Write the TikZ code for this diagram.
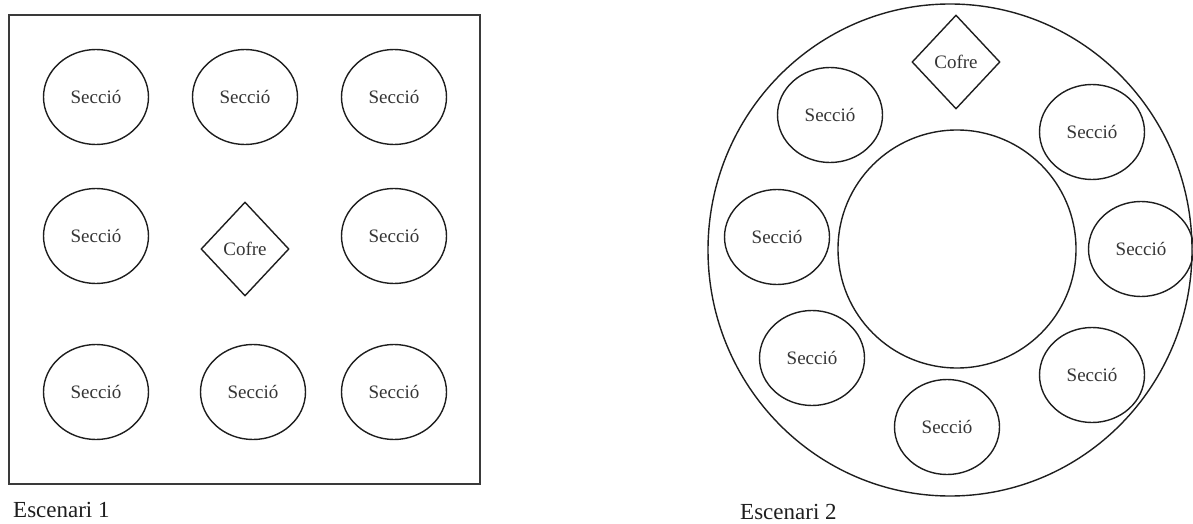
\documentclass[tikz,border=0pt]{standalone}
\usepackage{fontspec}
\setmainfont{Liberation Serif}
\usetikzlibrary{shapes.geometric}
\definecolor{ink}{HTML}{1E1E1E}
\definecolor{frame}{HTML}{3A3A3A}
\begin{document}
\begin{tikzpicture}[x=1pt,y=-1pt,
  section/.style={ellipse, draw=ink, line width=1.4pt, minimum width=105pt, minimum height=95pt,
    inner sep=0pt, font=\fontsize{19}{19}\selectfont, text=ink!90},
  chest/.style={diamond, draw=ink, line width=1.4pt, minimum width=88pt, minimum height=94pt,
    inner sep=0pt, font=\fontsize{19}{19}\selectfont, text=ink!90},
  ring/.style={draw=ink, line width=1.4pt},
  caption/.style={anchor=base west, inner sep=0pt, font=\fontsize{23}{23}\selectfont, text=ink}]
\useasboundingbox (0,0) rectangle (1193,524);

% Scenario 1: a square room with a 3x3 grid
\draw[frame, line width=2pt] (9,15) rectangle (480,484);
\node[section] (s1a) at (96,97)  {Secció};
\node[section] (s1b) at (245,97) {Secció};
\node[section] (s1c) at (394,97) {Secció};
\node[section] (s1d) at (96,236)  {Secció};
\node[chest]   (c1)  at (245,249) {Cofre};
\node[section] (s1e) at (394,236) {Secció};
\node[section] (s1f) at (96,392)  {Secció};
\node[section] (s1g) at (253,392) {Secció};
\node[section] (s1h) at (394,392) {Secció};
\node[caption] (e1) at (13,517) {Escenari 1};

% Scenario 2: a circular room around a central pit
\draw[ring] (950,250) ellipse [x radius=242pt, y radius=246pt];
\draw[ring] (957,249) circle [radius=119pt];
\node[chest]   (c2)  at (956,62)  {Cofre};
\node[section] (s2a) at (830,115) {Secció};
\node[section] (s2b) at (1092,132) {Secció};
\node[section] (s2c) at (1141,249) {Secció};
\node[section] (s2d) at (1092,375) {Secció};
\node[section] (s2e) at (947,427) {Secció};
\node[section] (s2f) at (812,358) {Secció};
\node[section] (s2g) at (777,237) {Secció};
\node[caption] (e2) at (740,519) {Escenari 2};
\end{tikzpicture}
\end{document}
